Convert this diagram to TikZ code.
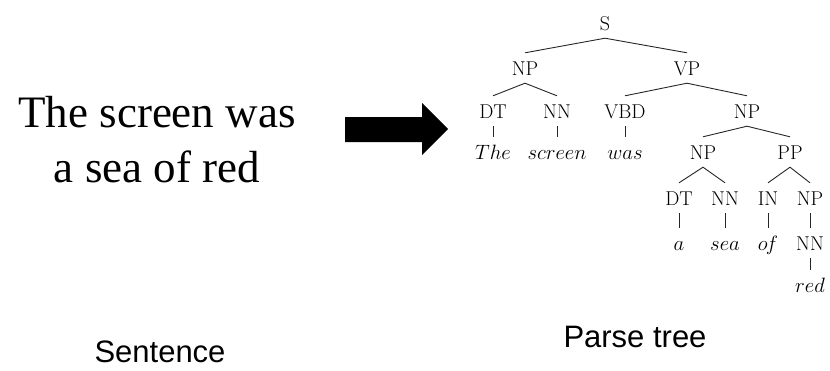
\documentclass[tikz,border=0pt]{standalone}
\usepackage{fontspec}
\newfontfamily\serifTNR{Liberation Serif}
\newfontfamily\sansArial{Liberation Sans}
\begin{document}
\begin{tikzpicture}[x=1pt,y=-1pt,
  cat/.style={anchor=base,inner xsep=1pt,inner ysep=8pt,text height=14pt,text depth=0pt,font=\fontsize{20}{24}\selectfont},
  word/.style={cat},
  edge/.style={draw=black!85,line width=0.9pt},
  caption/.style={anchor=base,font=\sansArial\fontsize{31}{36}\selectfont}]
\useasboundingbox (0,0) rectangle (830,370);
% sentence
\node[anchor=base,align=center,font=\serifTNR\fontsize{45}{55}\selectfont] (sent) at (157,182) {The screen was\\a sea of red};
% arrow
\coordinate (a1) at (345,117);
\fill (a1) -- (422,117) -- (422,103) -- (448,129) -- (422,155) -- (422,142) -- (345,142) -- cycle;
% tree
\node[cat] (S) at (605,30) {S};
\node[cat] (NP1) at (525,75) {NP};
\node[cat] (VP) at (687,75) {VP};
\node[cat] (DT1) at (493,118) {DT};
\node[cat] (NN1) at (557,118) {NN};
\node[cat] (VBD) at (625,118) {VBD};
\node[cat] (NP2) at (747,118) {NP};
\node[word] (w1) at (493,159) {$The$};
\node[word] (w2) at (557,159) {$screen$};
\node[word] (w3) at (625,159) {$was$};
\node[cat] (NP3) at (703,159) {NP};
\node[cat] (PP) at (790,159) {PP};
\node[cat] (DT2) at (679,205) {DT};
\node[cat] (NN2) at (725,205) {NN};
\node[cat] (IN) at (768,205) {IN};
\node[cat] (NP4) at (810,205) {NP};
\node[word] (w4) at (679,250) {$a$};
\node[word] (w5) at (725,250) {$sea$};
\node[word] (w6) at (768,250) {$o\mkern-1.5mu f$};
\node[cat] (NN3) at (810,250) {NN};
\node[word] (w7) at (810,292) {$red$};
\path[edge] (NP1.north) -- (S.south) -- (VP.north);
\path[edge] (DT1.north) -- (NP1.south) -- (NN1.north);
\path[edge] (VBD.north) -- (VP.south) -- (NP2.north);
\path[edge] (DT1.south) -- (w1.north);
\path[edge] (NN1.south) -- (w2.north);
\path[edge] (VBD.south) -- (w3.north);
\path[edge] (NP3.north) -- (NP2.south) -- (PP.north);
\path[edge] (DT2.north) -- (NP3.south) -- (NN2.north);
\path[edge] (IN.north) -- (PP.south) -- (NP4.north);
\path[edge] (DT2.south) -- (w4.north);
\path[edge] (NN2.south) -- (w5.north);
\path[edge] (IN.south) -- (w6.north);
\path[edge] (NP4.south) -- (NN3.north);
\path[edge] (NN3.south) -- (w7.north);
% captions
\node[caption] (c1) at (160,362) {Sentence};
\node[caption] (c2) at (635,347) {Parse tree};
\end{tikzpicture}
\end{document}
